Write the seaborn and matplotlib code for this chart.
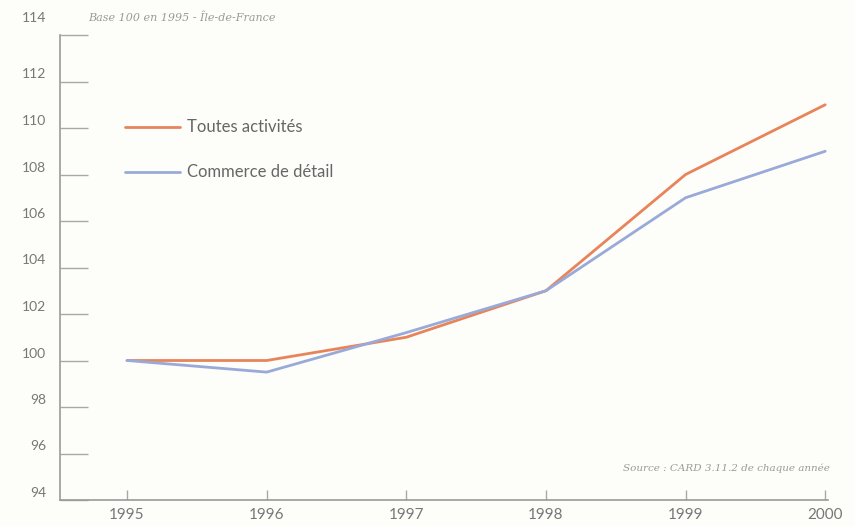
import matplotlib
matplotlib.use("Agg")
import matplotlib.pyplot as plt
import matplotlib.transforms as mtransforms
import seaborn as sns
import pandas as pd

years = [1995, 1996, 1997, 1998, 1999, 2000]
toutes = [100, 100, 101, 103, 108, 111]
commerce = [100, 99.5, 101.2, 103, 107, 109]
series_names = ["Toutes activités", "Commerce de détail"]
yticks = [94, 96, 98, 100, 102, 104, 106, 108, 110, 112, 114]

df = pd.DataFrame({
    "annee": years * 2,
    "indice": toutes + commerce,
    "serie": [series_names[0]] * len(years) + [series_names[1]] * len(years),
})

sns.set_style("white")
plt.rcParams["font.family"] = ["Lato", "DejaVu Sans"]

fig = plt.figure(figsize=(8.55, 5.26), dpi=100, facecolor="#fdfdfa")
ax = fig.add_axes([60/855, 26/526, (828-60)/855, (500-35)/526])
ax.set_facecolor("#fdfdfa")

palette = {series_names[0]: "#e8845a", series_names[1]: "#9aaad8"}
sns.lineplot(data=df, x="annee", y="indice", hue="serie", palette=palette,
             linewidth=2, ax=ax, legend=False)

ax.set_xlim(1994.52, 2000.02)
ax.set_ylim(94, 114)
ax.set_xticks(years)
ax.set_xticklabels([str(y) for y in years], fontsize=11, color="#777777")
ax.set_yticks(yticks)
ax.set_yticklabels([str(v) for v in yticks], fontsize=10, color="#777777")
ax.set_xlabel("")
ax.set_ylabel("")
for s in ["top", "right"]:
    ax.spines[s].set_visible(False)
for s in ["left", "bottom"]:
    ax.spines[s].set_color("#9a9a9a")
    ax.spines[s].set_linewidth(1.2)
ax.tick_params(axis="y", left=True, direction="in", length=20, width=1, color="#a8a8a8", pad=10)
ax.tick_params(axis="x", bottom=True, direction="in", length=7, width=1, color="#a8a8a8", pad=6)

# shift y tick labels upward as in the reference
for v, lab in zip(yticks, ax.get_yticklabels()):
    dy = 18 if v == 114 else 8
    offset = mtransforms.ScaledTranslation(0, dy/100, fig.dpi_scale_trans)
    lab.set_transform(lab.get_transform() + offset)

# legend drawn manually
for i, name in enumerate(series_names):
    yfig = [127, 172][i]
    fig.add_artist(plt.Line2D([125/855, 180/855], [1 - yfig/526, 1 - yfig/526],
                              color=palette[name], linewidth=2))
    fig.text(187/855, 1 - yfig/526, name, fontsize=12, color="#666666",
             va="center", ha="left")

fig.text(88/855, 1 - 18/526, "Base 100 en 1995 - Île-de-France", fontsize=8,
         family=["DejaVu Serif"], style="italic", color="#9a9a9a", va="center")
fig.text(830/855, 1 - 468/526, "Source : CARD 3.11.2 de chaque année", fontsize=7.5,
         family=["DejaVu Serif"], style="italic", color="#9a9a9a", va="center", ha="right")

fig.savefig("out.png", dpi=100, facecolor=fig.get_facecolor())
